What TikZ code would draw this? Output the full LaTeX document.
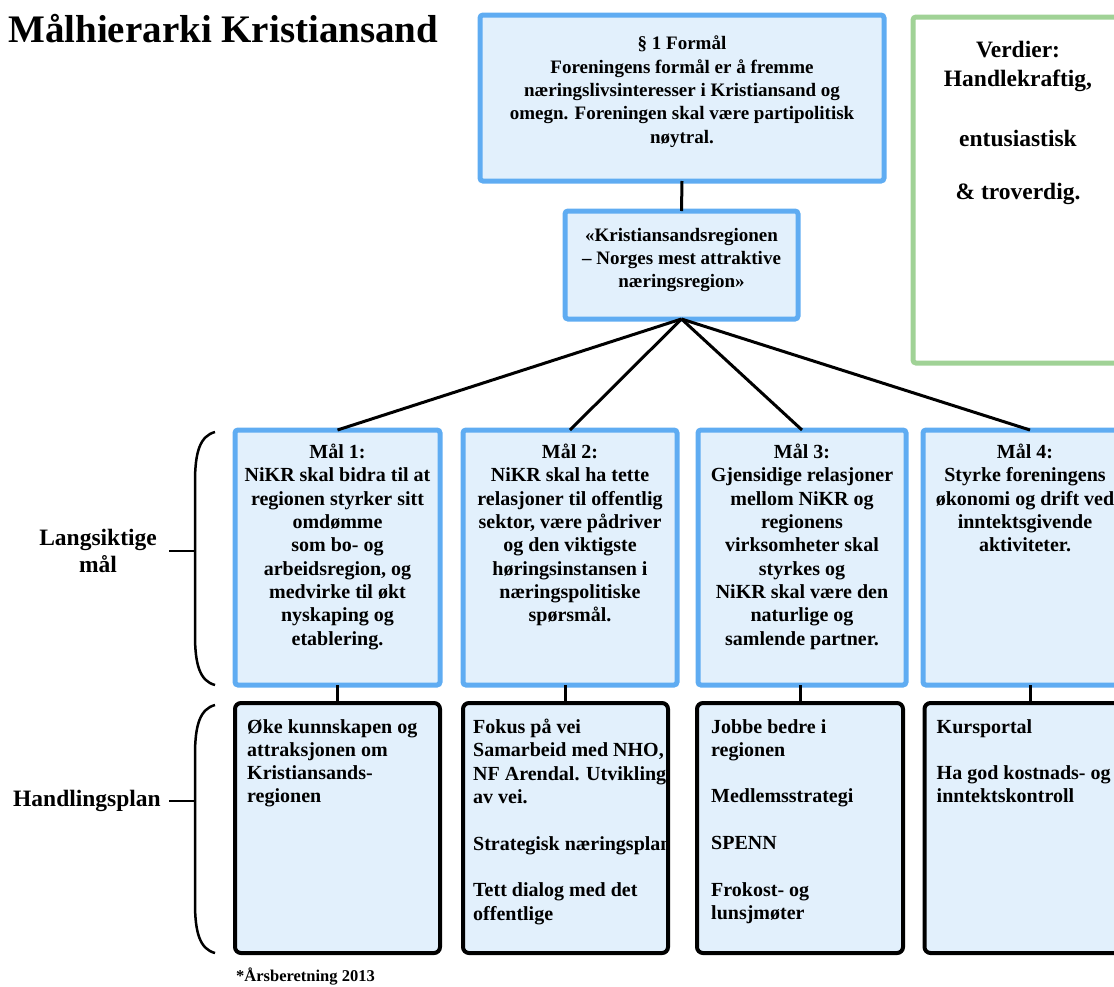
\documentclass[tikz,border=0pt]{standalone}
\usepackage{fontspec}
\setmainfont{Liberation Serif}
\usetikzlibrary{calc}
\definecolor{boxblue}{RGB}{95,172,242}
\definecolor{boxfill}{RGB}{226,240,252}
\definecolor{valgreen}{RGB}{160,210,150}

\begin{document}
\begin{tikzpicture}[x=1pt,y=-1pt,
  font=\bfseries\fontsize{20}{23.3}\selectfont,
  goalbox/.style={draw=boxblue, line width=5pt, fill=boxfill, rounded corners=3pt, inner sep=0pt, outer sep=0pt},
  planbox/.style={draw=black, line width=4pt, fill=boxfill, rounded corners=6pt, inner sep=0pt, outer sep=0pt},
  valuebox/.style={draw=valgreen, line width=5pt, fill=white, rounded corners=3pt, inner sep=0pt, outer sep=0pt},
  link/.style={draw=black, line width=3pt},
  bracket/.style={draw=black, line width=2.5pt},
  txt/.style={inner sep=0pt, align=center, anchor=north},
  toptxt/.style={txt, font=\bfseries\fontsize{19}{23.3}\selectfont},
  plantxt/.style={inner sep=0pt, align=left, anchor=north west},
  sidelabel/.style={inner sep=0pt, align=center, font=\bfseries\fontsize{23.5}{26.5}\selectfont},
]
\useasboundingbox (0,0) rectangle (1114,986);
\clip (0,0) rectangle (1114,986);

% title
\node[anchor=base west, inner sep=0pt, font=\bfseries\fontsize{39}{42}\selectfont] (title) at (8,42) {Målhierarki Kristiansand};

% purpose, vision and values
\node[goalbox, minimum width=404pt, minimum height=166pt] (purpose) at (682,98) {};
\node[valuebox, minimum width=227pt, minimum height=346pt] (values) at (1026.5,190) {};
\node[goalbox, minimum width=233pt, minimum height=108pt] (vision) at (681.5,265) {};

% long-term goals
\node[goalbox, minimum width=205pt, minimum height=255pt] (g1) at (337.5,557.5) {};
\node[goalbox, minimum width=214pt, minimum height=255pt] (g2) at (570,557.5) {};
\node[goalbox, minimum width=208pt, minimum height=255pt] (g3) at (802,557.5) {};
\node[goalbox, minimum width=214pt, minimum height=255pt] (g4) at (1030,557.5) {};

% action plan
\node[planbox, minimum width=205pt, minimum height=250pt] (p1) at (337.5,828) {};
\node[planbox, minimum width=205pt, minimum height=250pt] (p2) at (565.5,828) {};
\node[planbox, minimum width=206pt, minimum height=250pt] (p3) at (800,828) {};
\node[planbox, minimum width=211pt, minimum height=250pt] (p4) at (1030,828) {};

% connectors
\draw[link] (purpose.south) -- (vision.north);
\foreach \g in {g1,g2,g3,g4} {\draw[link] (vision.south) -- (\g.north);}
\draw[link] (p1.north) -- (p1.north |- g1.south);
\draw[link] (p2.north) -- (p2.north |- g2.south);
\draw[link] (p3.north) -- (p3.north |- g3.south);
\draw[link] (p4.north) -- (p4.north |- g4.south);

% texts in boxes
\node[toptxt] (purposetxt) at ([yshift=-21pt]purpose.north) {§ 1 Formål\\Foreningens formål er å fremme\\næringslivsinteresser i Kristiansand og\\omegn. Foreningen skal være partipolitisk\\nøytral.};
\node[txt, font=\bfseries\fontsize{23.5}{29}\selectfont] (valuestxt) at (1018,41) {Verdier:\\Handlekraftig,\\[31pt]entusiastisk\\[24pt]\& troverdig.};
\node[toptxt] (visiontxt) at ([yshift=-17pt]vision.north) {«Kristiansandsregionen\\– Norges mest attraktive\\næringsregion»};

\node[txt] (g1txt) at ([yshift=-14pt]g1.north) {Mål 1:\\NiKR skal bidra til at\\regionen styrker sitt\\omdømme\\som bo- og\\arbeidsregion, og\\medvirke til økt\\nyskaping og\\etablering.};
\node[txt] (g2txt) at ([yshift=-14pt]g2.north) {Mål 2:\\NiKR skal ha tette\\relasjoner til offentlig\\sektor, være pådriver\\og den viktigste\\høringsinstansen i\\næringspolitiske\\spørsmål.};
\node[txt] (g3txt) at ([yshift=-14pt]g3.north) {Mål 3:\\Gjensidige relasjoner\\mellom NiKR og\\regionens\\virksomheter skal\\styrkes og\\NiKR skal være den\\naturlige og\\samlende partner.};
\node[txt] (g4txt) at ([xshift=-5pt,yshift=-14pt]g4.north) {Mål 4:\\Styrke foreningens\\økonomi og drift ved\\inntektsgivende\\aktiviteter.};

\node[plantxt] (p1txt) at ([xshift=12pt,yshift=-16pt]p1.north west) {Øke kunnskapen og\\attraksjonen om\\Kristiansands-\\regionen};
\begin{scope}
  % text running past the right edge is cut off by the box
  \clip ([shift={(0pt,-2pt)}]p2.north west) rectangle ([shift={(-2pt,2pt)}]p2.south east);
  \node[plantxt] (p2txt) at ([xshift=10pt,yshift=-16pt]p2.north west) {Fokus på vei\\Samarbeid med NHO,\\NF Arendal. Utvikling\\av vei.\\[23.3pt]Strategisk næringsplan\\[23.3pt]Tett dialog med det\\offentlige};
\end{scope}
\node[plantxt] (p3txt) at ([xshift=14pt,yshift=-16pt]p3.north west) {Jobbe bedre i\\regionen\\[23.3pt]Medlemsstrategi\\[23.3pt]SPENN\\[23.3pt]Frokost- og\\lunsjmøter};
\node[plantxt] (p4txt) at ([xshift=12pt,yshift=-16pt]p4.north west) {Kursportal\\[23.3pt]Ha god kostnads- og\\inntektskontroll};

% brackets with their labels
\coordinate (gtip) at (195,551);
\coordinate (ptip) at (195,801);
\draw[bracket] (215,432) .. controls (200,436) and (195,452) .. (195,482) -- (195,635) .. controls (195,665) and (200,681) .. (215,685);
\draw[bracket] (215,705) .. controls (200,709) and (195,725) .. (195,755) -- (195,903) .. controls (195,933) and (200,949) .. (215,953);
\draw[bracket] (gtip) -- ++(-26,0) coordinate (gend);
\draw[bracket] (ptip) -- ++(-26,0) coordinate (pend);
\node[sidelabel, anchor=east] (glabel) at ([xshift=-12pt]gend) {Langsiktige\\mål};
\node[sidelabel, anchor=east] (plabel) at ([xshift=-8pt]pend) {Handlingsplan};

% source note
\node[anchor=base west, inner sep=0pt, font=\bfseries\fontsize{16.5}{19}\selectfont] (note) at (236,981) {*Årsberetning 2013};
\end{tikzpicture}
\end{document}
